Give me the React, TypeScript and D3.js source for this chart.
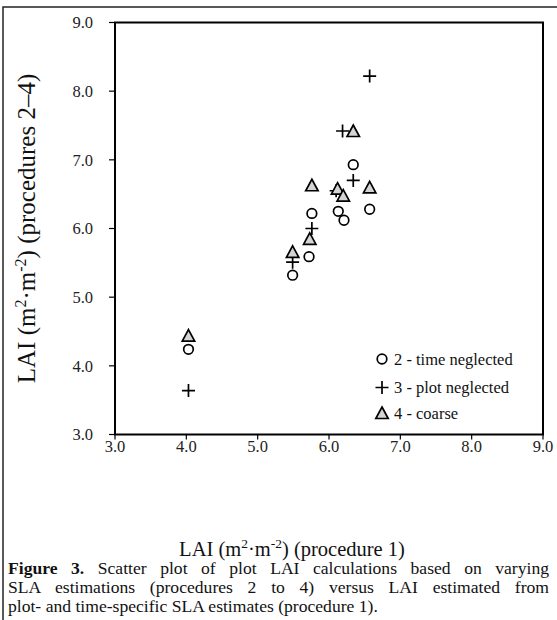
import React, { useLayoutEffect, useRef } from "react";
import * as d3 from "d3";

const ticks = [3, 4, 5, 6, 7, 8, 9];
const tickLabels = ["3.0", "4.0", "5.0", "6.0", "7.0", "8.0", "9.0"];

// procedure 2 - time neglected
const p2x = [4.03, 5.49, 5.72, 5.76, 6.13, 6.21, 6.34, 6.57];
const p2y = [4.24, 5.32, 5.59, 6.22, 6.25, 6.12, 6.93, 6.28];
// procedure 3 - plot neglected
const p3x = [4.03, 5.49, 5.76, 6.1, 6.34, 6.19, 6.57];
const p3y = [3.64, 5.51, 6.0, 6.55, 6.7, 7.42, 8.22];
// procedure 4 - coarse
const p4x = [4.03, 5.49, 5.73, 5.76, 6.12, 6.2, 6.34, 6.57];
const p4y = [4.44, 5.66, 5.85, 6.63, 6.58, 6.48, 7.42, 6.6];

const legendLabels = ["2 - time neglected", "3 - plot neglected", "4 - coarse"];

const captionBold = "Figure 3.";
const captionLines = [
  " Scatter plot of plot LAI calculations based on varying",
  "SLA estimations (procedures 2 to 4) versus LAI estimated from",
  "plot- and time-specific SLA estimates (procedure 1).",
];

const FONT = "Liberation Serif";
const W = 557;
const H = 620;

const x = d3.scaleLinear().domain([3, 9]).range([115, 543]);
const y = d3.scaleLinear().domain([3, 9]).range([434.5, 22.5]);

const Circle = ({ cx, cy }: { cx: number; cy: number }) => (
  <circle cx={cx} cy={cy} r={4.8} fill="none" stroke="#000" strokeWidth={1.7} />
);
const Plus = ({ cx, cy }: { cx: number; cy: number }) => (
  <path
    d={`M${cx - 6.5},${cy}H${cx + 6.5}M${cx},${cy - 6.5}V${cy + 6.5}`}
    stroke="#000"
    strokeWidth={1.7}
    fill="none"
  />
);
const Tri = ({ cx, cy }: { cx: number; cy: number }) => (
  <path
    d={`M${cx},${cy - 6}L${cx + 6.2},${cy + 5.5}L${cx - 6.2},${cy + 5.5}Z`}
    stroke="#000"
    strokeWidth={1.7}
    fill="#d4d4d4"
  />
);

export default function App() {
  const [x0, x1] = x.range();
  const [y0, y1] = y.range();
  const legX = 382;
  const legY = [359, 387.5, 413];
  const capRefs = [useRef<SVGTextElement>(null), useRef<SVGTextElement>(null)];
  const capLeft = 8;
  const capRight = 549;

  useLayoutEffect(() => {
    capRefs.forEach((r) => {
      const el = r.current;
      if (!el) return;
      el.setAttribute("word-spacing", "0");
      const natural = el.getComputedTextLength();
      const spaces = (el.textContent || "").trim().split(/\s+/).length - 1;
      const ws = (capRight - capLeft - natural) / Math.max(1, spaces);
      el.setAttribute("word-spacing", String(ws));
    });
  }, []);

  const ts = { fontFamily: FONT };

  return (
    <svg
      width={W}
      height={H}
      style={{ position: "absolute", left: 0, top: 0, background: "#fff", fontFamily: FONT }}
    >
      <rect x={0} y={0} width={W} height={H} fill="#fff" />
      {/* outer frame */}
      <path d={`M3,${H}V7H${W}`} fill="none" stroke="#222" strokeWidth={1.5} />

      {/* ticks y */}
      {ticks.map((t, i) => (
        <g key={"yt" + t}>
          <line x1={x0 - 6} x2={x0} y1={y(t)} y2={y(t)} stroke="#000" strokeWidth={1.2} />
          <text style={ts} x={93} y={y(t)} dy="0.35em" textAnchor="end" fontSize={16.5} fill="#222">
            {tickLabels[i]}
          </text>
        </g>
      ))}
      {/* ticks x */}
      {ticks.map((t, i) => (
        <g key={"xt" + t}>
          <line x1={x(t)} x2={x(t)} y1={y0} y2={y0 + 5} stroke="#000" strokeWidth={1.2} />
          <text style={ts} x={x(t)} y={452} textAnchor="middle" fontSize={16.5} fill="#222">
            {tickLabels[i]}
          </text>
        </g>
      ))}

      {/* plot frame */}
      <rect x={x0} y={y1} width={x1 - x0} height={y0 - y1} fill="none" stroke="#000" strokeWidth={2} />

      {/* data */}
      {p2x.map((v, i) => (
        <Circle key={"c" + i} cx={x(v)} cy={y(p2y[i])} />
      ))}
      {p3x.map((v, i) => (
        <Plus key={"p" + i} cx={x(v)} cy={y(p3y[i])} />
      ))}
      {p4x.map((v, i) => (
        <Tri key={"t" + i} cx={x(v)} cy={y(p4y[i])} />
      ))}

      {/* legend */}
      <Circle cx={legX} cy={legY[0]} />
      <Plus cx={legX} cy={legY[1]} />
      <Tri cx={legX} cy={legY[2]} />
      {legendLabels.map((l, i) => (
        <text style={ts} key={l} x={legX + 12} y={legY[i]} dy="0.35em" fontSize={16.5} fill="#111">
          {l}
        </text>
      ))}

      {/* y axis label */}
      <text
        style={ts}
        transform={`translate(35,${(y0 + y1) / 2}) rotate(-90)`}
        textAnchor="middle"
        fontSize={25}
        fill="#111"
      >
        LAI (m<tspan fontSize={16} dy={-9}>2</tspan>
        <tspan dy={9}>·m</tspan>
        <tspan fontSize={16} dy={-9}>-2</tspan>
        <tspan dy={9}>) (procedures 2–4)</tspan>
      </text>

      {/* x axis label */}
      <text style={ts} x={292} y={556} textAnchor="middle" fontSize={20.5} fill="#111">
        LAI (m<tspan fontSize={13.5} dy={-8}>2</tspan>
        <tspan dy={8}>·m</tspan>
        <tspan fontSize={13.5} dy={-8}>-2</tspan>
        <tspan dy={8}>) (procedure 1)</tspan>
      </text>

      {/* caption */}
      <text style={ts} ref={capRefs[0]} x={capLeft} y={574} fontSize={17.6} fill="#111">
        <tspan fontWeight="bold">{captionBold}</tspan>
        {captionLines[0]}
      </text>
      <text style={ts} ref={capRefs[1]} x={capLeft} y={593} fontSize={17.6} fill="#111">
        {captionLines[1]}
      </text>
      <text style={ts} x={capLeft} y={612} fontSize={17.6} fill="#111">
        {captionLines[2]}
      </text>
    </svg>
  );
}
